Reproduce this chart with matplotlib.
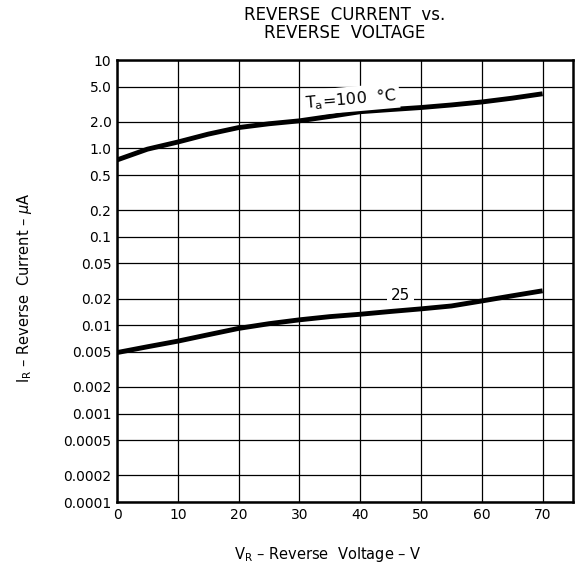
import matplotlib
matplotlib.use("Agg")
import matplotlib.pyplot as plt

plt.rcParams['font.family'] = ['DejaVu Sans']
plt.rcParams['mathtext.fontset'] = 'dejavusans'

voltage = [0, 5, 10, 15, 20, 25, 30, 35, 40, 45, 50, 55, 60, 65, 70]
current_100 = [0.74, 0.98, 1.18, 1.45, 1.72, 1.9, 2.05, 2.3, 2.6, 2.75, 2.9, 3.1, 3.35, 3.7, 4.15]
current_25 = [0.0049, 0.0057, 0.0066, 0.0078, 0.0092, 0.0104, 0.0115, 0.0125, 0.0133,
              0.0143, 0.0153, 0.0165, 0.0188, 0.0215, 0.0245]

x_ticks = [0, 10, 20, 30, 40, 50, 60, 70]
y_ticks = [10, 5, 2, 1, 0.5, 0.2, 0.1, 0.05, 0.02, 0.01, 0.005, 0.002, 0.001,
           0.0005, 0.0002, 0.0001]
y_tick_labels = ["10", "5.0", "2.0", "1.0", "0.5", "0.2", "0.1", "0.05", "0.02", "0.01",
                 "0.005", "0.002", "0.001", "0.0005", "0.0002", "0.0001"]

fig = plt.figure(figsize=(5.82, 5.73), dpi=100)
ax = fig.add_axes([117/582, 1-502/573, (573-117)/582, (502-60)/573])

ax.set_yscale('log')
ax.set_xlim(0, 75)
ax.set_ylim(0.0001, 10)
ax.set_xticks(x_ticks)
ax.set_xticklabels([str(v) for v in x_ticks])
ax.set_yticks(y_ticks)
ax.set_yticklabels(y_tick_labels)
ax.minorticks_off()
ax.tick_params(length=0, labelsize=10, pad=4)
ax.grid(True, color='black', linewidth=0.9)
ax.set_axisbelow(True)
for s in ax.spines.values():
    s.set_linewidth(1.8)

ax.plot(voltage, current_100, color='black', linewidth=3.5, solid_capstyle='butt', zorder=3)
ax.plot(voltage, current_25, color='black', linewidth=3.5, solid_capstyle='butt', zorder=3)

ax.text(38.5, 3.6, r'T$_\mathrm{a}$=100  °C', fontsize=11.5, ha='center', va='center',
        rotation=5, bbox=dict(facecolor='white', edgecolor='none', pad=2), zorder=4)
ax.text(46.6, 0.0218, '25', fontsize=11, ha='center', va='center',
        bbox=dict(facecolor='white', edgecolor='none', pad=3), zorder=4)

fig.text(345/582, 1-15/573, 'REVERSE  CURRENT  vs.', ha='center', va='center', fontsize=12)
fig.text(345/582, 1-33/573, 'REVERSE  VOLTAGE', ha='center', va='center', fontsize=12)

fig.text(328/582, 1-555/573, r'V$_\mathrm{R}$ – Reverse  Voltage – V', ha='center', va='center',
         fontsize=10.5)
fig.text(25/582, 1-288/573, r'I$_\mathrm{R}$ – Reverse  Current – $\mu$A', ha='center', va='center',
         fontsize=10.5, rotation=90)

fig.savefig('out.png', dpi=100, facecolor='white')
